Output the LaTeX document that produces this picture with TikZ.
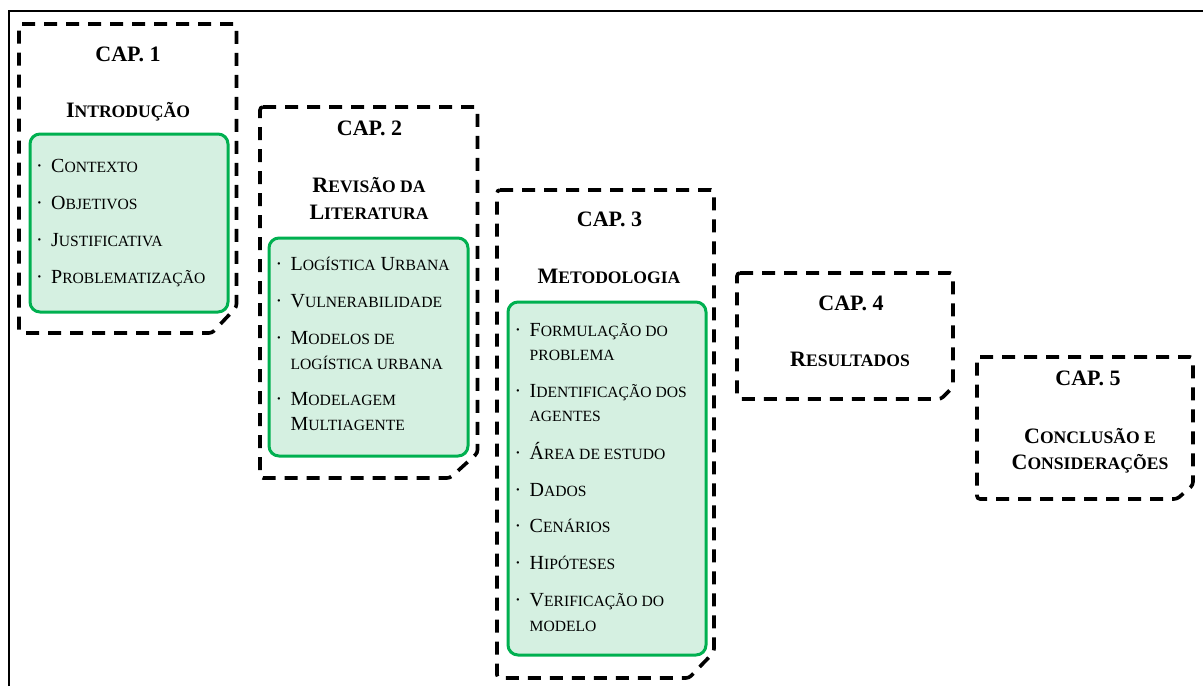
\documentclass[tikz,border=0pt]{standalone}
\usepackage{fontspec}
\setmainfont{Liberation Serif}
\definecolor{boxgreen}{HTML}{00B050}
\definecolor{boxfill}{HTML}{D5F0E1}
% hand-made small capitals: full-size initials, reduced capitals for the rest
\newcommand\tsc[1]{{\fontsize{17.6}{20}\selectfont #1}}
\newcommand\isc[1]{{\fontsize{15.6}{18}\selectfont #1}}
\newcommand\bul{\makebox[15pt][l]{·}}
\tikzset{
  chapbox/.style={line width=3.6pt, dash pattern=on 13pt off 9pt, rounded corners=3pt},
  topicbox/.style={draw=boxgreen, fill=boxfill, line width=3pt, rounded corners=10pt},
  captitle/.style={font=\fontsize{22}{26}\selectfont\bfseries, inner sep=0pt, anchor=base},
  topic/.style={font=\fontsize{20}{24}\selectfont, inner sep=0pt, anchor=base west},
}
\begin{document}
\begin{tikzpicture}[x=1pt,y=-1pt]
\useasboundingbox (0,0) rectangle (1203,686);
% outer frame
\draw[line width=2.3pt] (9,686) -- (9,11) -- (1203,11);

% ---------- Chapter 1 ----------
\draw[chapbox] (19,24) -- (236.5,24) -- (236.5,307) -- (212,333) -- (19,333) -- cycle;
\draw[topicbox] (30,134) rectangle (228,312);
\node[captitle] (cap1) at (128,61) {CAP. 1};
\node[captitle] (tit1) at (128,117) {I\tsc{NTRODUÇÃO}};
\node[topic] (c1a) at (36,172.5) {\bul C\isc{ONTEXTO}};
\node[topic] (c1b) at (36,209.5) {\bul O\isc{BJETIVOS}};
\node[topic] (c1c) at (36,246.5) {\bul J\isc{USTIFICATIVA}};
\node[topic] (c1d) at (36,283.5) {\bul P\isc{ROBLEMATIZAÇÃO}};

% ---------- Chapter 2 ----------
\draw[chapbox] (260,107) -- (477.5,107) -- (477.5,453) -- (450,478) -- (260,478) -- cycle;
\draw[topicbox] (269,238) rectangle (468,456);
\node[captitle] (cap2) at (369.5,135) {CAP. 2};
\node[captitle] (tit2a) at (369,192) {R\tsc{EVISÃO DA}};
\node[captitle] (tit2b) at (369,219.5) {L\tsc{ITERATURA}};
\node[topic] (c2a) at (275.5,270.5) {\bul L\isc{OGÍSTICA} U\isc{RBANA}};
\node[topic] (c2b) at (275.5,307) {\bul V\isc{ULNERABILIDADE}};
\node[topic] (c2c) at (275.5,344) {\bul M\isc{ODELOS DE}};
\node[topic] (c2c2) at (290.5,369) {\isc{LOGÍSTICA URBANA}};
\node[topic] (c2d) at (275.5,405) {\bul M\isc{ODELAGEM}};
\node[topic] (c2d2) at (290.5,430) {M\isc{ULTIAGENTE}};

% ---------- Chapter 3 ----------
\draw[chapbox] (497,190) -- (714,190) -- (714,652) -- (689,678) -- (497,678) -- cycle;
\draw[topicbox] (508,302) rectangle (706,655);
\node[captitle] (cap3) at (609.5,226.5) {CAP. 3};
\node[captitle] (tit3) at (609,283) {M\tsc{ETODOLOGIA}};
\node[topic] (c3a) at (514.5,336) {\bul F\isc{ORMULAÇÃO DO}};
\node[topic] (c3a2) at (529.5,360.5) {\isc{PROBLEMA}};
\node[topic] (c3b) at (514.5,397) {\bul I\isc{DENTIFICAÇÃO DOS}};
\node[topic] (c3b2) at (529.5,421.5) {\isc{AGENTES}};
\node[topic] (c3c) at (514.5,459) {\bul Á\isc{REA DE ESTUDO}};
\node[topic] (c3d) at (514.5,496) {\bul D\isc{ADOS}};
\node[topic] (c3e) at (514.5,532.5) {\bul C\isc{ENÁRIOS}};
\node[topic] (c3f) at (514.5,569) {\bul H\isc{IPÓTESES}};
\node[topic] (c3g) at (514.5,606) {\bul V\isc{ERIFICAÇÃO DO}};
\node[topic] (c3g2) at (529.5,631) {\isc{MODELO}};

% ---------- Chapter 4 ----------
\draw[chapbox] (737,273) -- (953,273) -- (953,387) -- (941,399) -- (737,399) -- cycle;
\node[captitle] (cap4) at (851,310) {CAP. 4};
\node[captitle] (tit4) at (850,366) {R\tsc{ESULTADOS}};

% ---------- Chapter 5 ----------
\draw[chapbox] (977,357) -- (1193,357) -- (1193,485) -- (1177,499) -- (977,499) -- cycle;
\node[captitle] (cap5) at (1088,385) {CAP. 5};
\node[captitle] (tit5a) at (1090,443.5) {C\tsc{ONCLUSÃO E}};
\node[captitle] (tit5b) at (1090,469.5) {C\tsc{ONSIDERAÇÕES}};
\end{tikzpicture}
\end{document}
